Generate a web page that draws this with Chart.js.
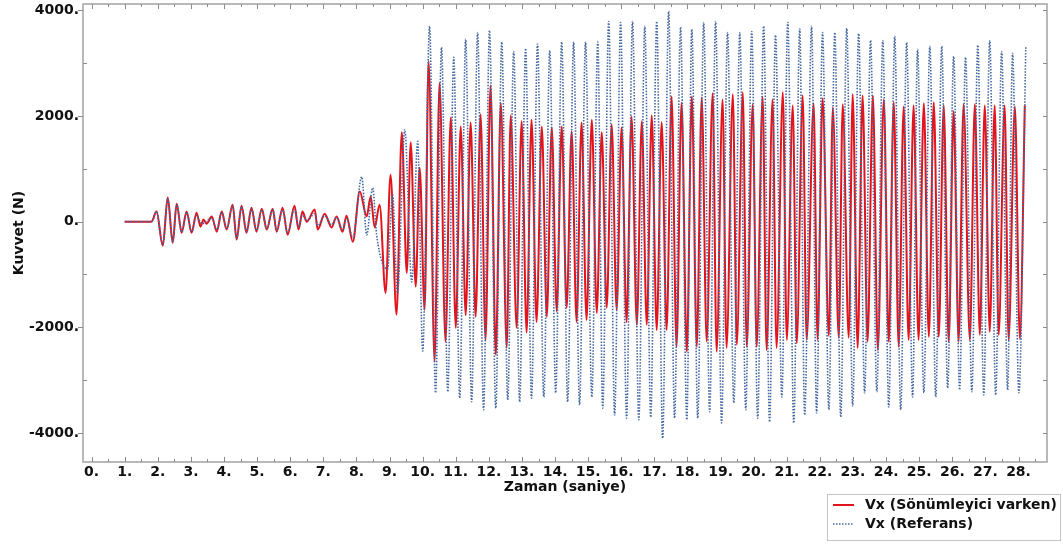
<!DOCTYPE html>
<html lang="tr">
<head>
<meta charset="utf-8">
<title>Vx kuvvet - zaman</title>
<script src="https://cdn.jsdelivr.net/npm/chart.js@4.4.1/dist/chart.umd.min.js"></script>
<style>
  html, body { margin: 0; padding: 0; background: #fff; }
  #wrap { width: 1063px; height: 544px; }
</style>
</head>
<body>
<div id="wrap"><canvas id="chart" width="1063" height="544"></canvas></div>
<script>
// Axis tick values
const xTicks = [0, 1, 2, 3, 4, 5, 6, 7, 8, 9, 10, 11, 12, 13, 14, 15, 16, 17, 18, 19, 20, 21, 22, 23, 24, 25, 26, 27, 28];
const yTicks = [-4000, -2000, 0, 2000, 4000];

// Vx (Sönümleyici varken): turning points, time (s) / force (N)
const redTime = [
    1.00, 1.81, 1.96, 2.15, 2.30, 2.45, 2.57, 2.72, 2.87, 3.02,
    3.17, 3.29, 3.38, 3.47, 3.63, 3.78, 3.93, 4.08, 4.26, 4.38,
    4.53, 4.68, 4.83, 4.98, 5.14, 5.29, 5.47, 5.59, 5.77, 5.92,
    6.13, 6.25, 6.37, 6.50, 6.74, 6.83, 7.04, 7.25, 7.40, 7.58,
    7.70, 7.89, 8.10, 8.31, 8.43, 8.55, 8.70, 8.88, 9.03, 9.21,
    9.37, 9.52, 9.64, 9.79, 9.91, 10.06, 10.18, 10.36, 10.51, 10.69,
    10.85, 11.00, 11.15, 11.30, 11.45, 11.60, 11.75, 11.90, 12.05, 12.21,
    12.36, 12.54, 12.66, 12.84, 12.99, 13.14, 13.29, 13.44, 13.60, 13.75,
    13.90, 14.05, 14.20, 14.35, 14.50, 14.65, 14.80, 14.95, 15.11, 15.26,
    15.41, 15.56, 15.71, 15.86, 16.01, 16.16, 16.31, 16.47, 16.62, 16.77,
    16.92, 17.07, 17.22, 17.37, 17.52, 17.67, 17.82, 17.98, 18.13, 18.28,
    18.43, 18.58, 18.76, 18.88, 19.06, 19.18, 19.37, 19.49, 19.67, 19.79,
    19.97, 20.09, 20.27, 20.39, 20.57, 20.69, 20.88, 21.00, 21.18, 21.30,
    21.48, 21.60, 21.81, 21.93, 22.08, 22.27, 22.39, 22.57, 22.69, 22.87,
    22.99, 23.14, 23.29, 23.44, 23.60, 23.75, 23.93, 24.08, 24.23, 24.38,
    24.53, 24.68, 24.83, 24.98, 25.14, 25.29, 25.44, 25.59, 25.74, 25.89,
    26.04, 26.19, 26.34, 26.53, 26.68, 26.83, 26.98, 27.13, 27.28, 27.40,
    27.58, 27.70, 27.89, 28.04, 28.19
];
const redForce = [
    0, 0, 190, -455, 455, -400, 340, -210, 190, -210,
    170, -95, 40, -40, 95, -190, 190, -150, 320, -340,
    300, -210, 265, -190, 245, -150, 245, -190, 265, -250,
    300, -150, 190, 0, 230, -150, 150, -110, 95, -190,
    110, -380, 570, 100, 475, -110, 320, -1350, 890, -1760,
    1690, -970, 1500, -1230, 1020, -1670, 3040, -2650, 2630, -2270,
    1970, -2010, 1800, -1770, 1875, -1800, 2030, -2240, 2580, -2520,
    2250, -2390, 2010, -2010, 1900, -2100, 1930, -1900, 1800, -1800,
    1780, -1700, 1800, -1630, 1710, -1900, 1875, -1860, 1930, -1730,
    1690, -1630, 1840, -1670, 1780, -1900, 1990, -1950, 1900, -1950,
    2010, -2050, 1880, -2050, 2370, -2370, 2250, -2460, 2370, -2370,
    2350, -2270, 2430, -2460, 2310, -2390, 2410, -2330, 2450, -2370,
    2220, -2370, 2370, -2430, 2310, -2390, 2450, -2240, 2200, -2300,
    2390, -2240, 2240, -2240, 2330, -2160, 2160, -2200, 2220, -2200,
    2410, -2390, 2390, -2275, 2390, -2430, 2310, -2275, 2260, -2370,
    2180, -2240, 2200, -2240, 2240, -2180, 2260, -2180, 2200, -2275,
    2090, -2275, 2220, -2240, 2220, -2140, 2200, -2085, 2200, -2140,
    2200, -2240, 2180, -2220, 2200
];

// Vx (Referans): turning points, time (s) / force (N)
const refTime = [
    1.00, 1.81, 1.96, 2.15, 2.30, 2.45, 2.57, 2.72, 2.87, 3.02,
    3.17, 3.32, 3.63, 3.78, 3.93, 4.08, 4.26, 4.38, 4.53, 4.68,
    4.83, 4.98, 5.14, 5.29, 5.47, 5.59, 5.77, 5.92, 6.13, 6.25,
    6.37, 6.50, 6.74, 6.83, 7.04, 7.25, 7.40, 7.58, 7.70, 7.89,
    8.16, 8.31, 8.49, 8.61, 8.94, 9.09, 9.24, 9.46, 9.67, 9.85,
    10.00, 10.21, 10.39, 10.57, 10.76, 10.94, 11.12, 11.30, 11.48, 11.66,
    11.84, 12.02, 12.21, 12.39, 12.57, 12.75, 12.93, 13.11, 13.29, 13.47,
    13.66, 13.84, 14.02, 14.20, 14.38, 14.56, 14.74, 14.92, 15.11, 15.29,
    15.44, 15.62, 15.80, 15.98, 16.16, 16.34, 16.53, 16.71, 16.89, 17.07,
    17.25, 17.43, 17.61, 17.79, 17.98, 18.13, 18.31, 18.49, 18.67, 18.85,
    19.03, 19.21, 19.40, 19.58, 19.76, 19.94, 20.12, 20.30, 20.48, 20.66,
    20.85, 21.03, 21.21, 21.39, 21.54, 21.75, 21.90, 22.08, 22.27, 22.45,
    22.63, 22.81, 22.99, 23.17, 23.35, 23.53, 23.72, 23.90, 24.08, 24.26,
    24.44, 24.62, 24.80, 24.95, 25.14, 25.32, 25.50, 25.68, 25.86, 26.04,
    26.22, 26.40, 26.59, 26.77, 26.95, 27.13, 27.31, 27.49, 27.67, 27.82,
    28.01, 28.22
];
const refForce = [
    0, 0, 190, -440, 440, -390, 330, -200, 180, -190,
    120, -40, 60, -150, 170, -130, 300, -320, 280, -190,
    240, -170, 220, -140, 230, -170, 220, -200, 230, -100,
    120, 20, 150, -80, 110, -60, 80, -150, 60, -300,
    850, -250, 640, -250, -900, 510, -1350, 1745, -1140, 1520,
    -2450, 3700, -3240, 3300, -3220, 3110, -3340, 3450, -3410, 3580,
    -3560, 3620, -3530, 3400, -3375, 3220, -3410, 3280, -3340, 3360,
    -3320, 3240, -3240, 3400, -3410, 3400, -3470, 3400, -3320, 3400,
    -3530, 3790, -3660, 3770, -3720, 3790, -3750, 3700, -3700, 3790,
    -4100, 3980, -3720, 3680, -3750, 3640, -3720, 3770, -3600, 3790,
    -3810, 3580, -3430, 3580, -3560, 3600, -3720, 3700, -3790, 3530,
    -3320, 3770, -3810, 3650, -3660, 3700, -3620, 3580, -3560, 3580,
    -3700, 3660, -3490, 3560, -3240, 3430, -3220, 3430, -3510, 3510,
    -3560, 3390, -3320, 3260, -3240, 3320, -3320, 3320, -3150, 3130,
    -3185, 3110, -3220, 3340, -3280, 3430, -3280, 3220, -3185, 3185,
    -3240, 3320
];

const RED = '#e2141c';
const BLUE = '#4467a0';
const FRAME = '#a8a8a8';
const FONT = { family: 'DejaVu Sans', size: 14, weight: 'bold' };

Chart.defaults.font = FONT;
Chart.defaults.color = '#111';

// Frame around the plot with inward ticks on all four sides
const framePlugin = {
    id: 'frame',
    afterDatasetsDraw(chart) {
        const { ctx, chartArea: a, scales: { x, y } } = chart;
        ctx.save();
        ctx.strokeStyle = FRAME;
        ctx.lineWidth = 1.6;
        ctx.strokeRect(a.left, a.top, a.right - a.left, a.bottom - a.top);

        ctx.lineWidth = 1;
        ctx.strokeStyle = '#8c8c8c';
        ctx.beginPath();
        xTicks.forEach(v => {
            [v, v + 0.5].forEach((t, k) => {
                if (t > x.max) return;
                const px = Math.round(x.getPixelForValue(t)) + 0.5;
                const len = k === 0 ? 5 : 3;
                ctx.moveTo(px, a.bottom); ctx.lineTo(px, a.bottom - len);
                ctx.moveTo(px, a.top); ctx.lineTo(px, a.top + len);
            });
        });
        yTicks.forEach(v => {
            [v, v + 1000].forEach((t, k) => {
                if (t > y.max) return;
                const py = Math.round(y.getPixelForValue(t)) + 0.5;
                if (k === 0) {
                    ctx.moveTo(a.left - 5, py); ctx.lineTo(a.left, py);
                } else {
                    ctx.moveTo(a.left, py); ctx.lineTo(a.left + 4, py);
                }
                ctx.moveTo(a.right, py); ctx.lineTo(a.right - 4, py);
            });
        });
        ctx.stroke();
        ctx.restore();
    }
};

// Boxed legend in the lower right corner
const legendPlugin = {
    id: 'boxLegend',
    afterDraw(chart) {
        const { ctx, width, height } = chart;
        const items = chart.data.datasets.slice().sort((p, q) => p.legendRank - q.legendRank);
        const bx = width - 236, by = height - 50, bw = 234, bh = 47;
        ctx.save();
        ctx.fillStyle = '#fff';
        ctx.fillRect(bx, by, bw, bh);
        ctx.strokeStyle = '#c4c4c4';
        ctx.lineWidth = 1;
        ctx.strokeRect(bx + 0.5, by + 0.5, bw - 1, bh - 1);
        ctx.font = `${FONT.weight} ${FONT.size}px ${FONT.family}`;
        ctx.textBaseline = 'middle';
        items.forEach((ds, i) => {
            const yy = by + 11 + i * 19;
            ctx.strokeStyle = ds.borderColor;
            ctx.lineWidth = ds.borderWidth;
            ctx.setLineDash(ds.borderDash || []);
            ctx.beginPath();
            ctx.moveTo(bx + 6, yy);
            ctx.lineTo(bx + 27, yy);
            ctx.stroke();
            ctx.setLineDash([]);
            ctx.fillStyle = '#111';
            ctx.fillText(ds.label, bx + 38, yy);
        });
        ctx.restore();
    }
};

const toPoints = (ts, fs) => ts.map((t, i) => ({ x: t, y: fs[i] }));

new Chart(document.getElementById('chart'), {
    type: 'line',
    data: {
        datasets: [
            {
                label: 'Vx (Referans)',
                legendRank: 1,
                data: toPoints(refTime, refForce),
                borderColor: BLUE,
                borderWidth: 1.6,
                borderDash: [1.5, 1.5],
                pointRadius: 0,
                cubicInterpolationMode: 'monotone',
                fill: false
            },
            {
                label: 'Vx (Sönümleyici varken)',
                legendRank: 0,
                data: toPoints(redTime, redForce),
                borderColor: RED,
                borderWidth: 2,
                pointRadius: 0,
                cubicInterpolationMode: 'monotone',
                fill: false
            }
        ]
    },
    options: {
        responsive: false,
        animation: false,
        devicePixelRatio: 1,
        layout: { padding: { left: 0, right: 16, top: 4, bottom: 48 } },
        plugins: {
            legend: { display: false },
            tooltip: { enabled: false }
        },
        scales: {
            x: {
                type: 'linear',
                min: -0.26,
                max: 28.86,
                grid: { display: false, drawTicks: false },
                border: { display: false },
                afterBuildTicks: s => { s.ticks = xTicks.map(v => ({ value: v })); },
                afterFit: s => { s.height = 34; },
                ticks: {
                    autoSkip: false,
                    maxRotation: 0,
                    padding: 2,
                    callback: v => v + '.'
                },
                title: { display: true, text: 'Zaman (saniye)', padding: 0 }
            },
            y: {
                min: -4550,
                max: 4120,
                grid: { display: false, drawTicks: false },
                border: { display: false },
                afterBuildTicks: s => { s.ticks = yTicks.map(v => ({ value: v })); },
                afterFit: s => {
                    s.width = 83;
                    s.paddingTop = 0;
                    s.paddingBottom = 0;
                },
                ticks: {
                    padding: 4,
                    callback: v => v + '.'
                },
                title: { display: true, text: 'Kuvvet (N)', padding: { top: 11, bottom: 4 } }
            }
        }
    },
    plugins: [framePlugin, legendPlugin]
});
</script>
</body>
</html>
